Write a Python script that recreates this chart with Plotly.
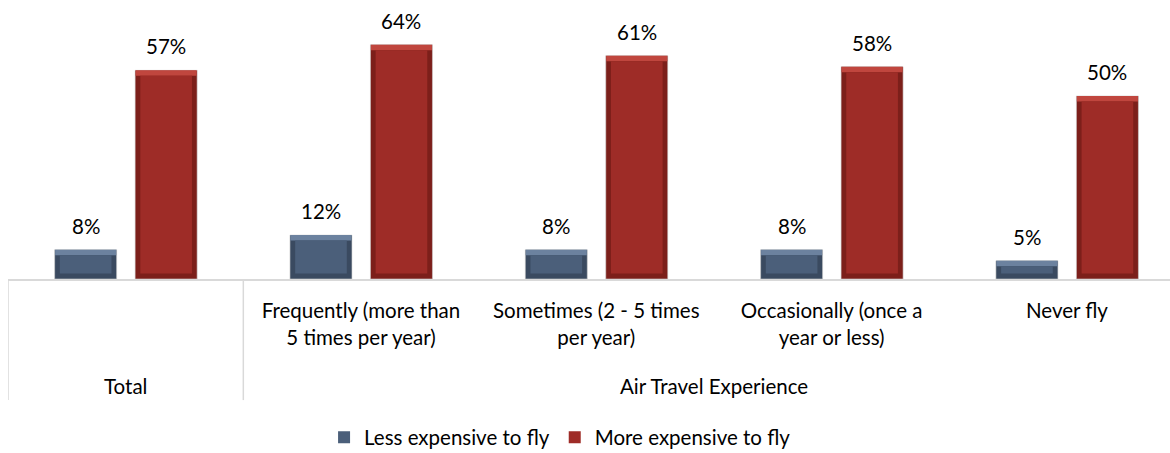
import plotly.graph_objects as go

# Survey results: share who say flying is less / more expensive
groups = ["Total", "Air Travel Experience"]
categories = ["Total",
              "Frequently (more than 5 times per year)",
              "Sometimes (2 - 5 times per year)",
              "Occasionally (once a year or less)",
              "Never fly"]
tick_labels = ["",
               "Frequently (more than<br>5 times per year)",
               "Sometimes (2 - 5 times<br>per year)",
               "Occasionally (once a<br>year or less)",
               "Never fly"]
less_expensive = [8, 12, 8, 8, 5]
more_expensive = [57, 64, 61, 58, 50]
series_names = ["Less expensive to fly", "More expensive to fly"]

FONT = "Lato"
FSIZE = 20.5
pos = list(range(len(categories)))

# geometry (in category units): bar width and centre offsets
bar_w = 0.2635
centre_off = [-0.170, 0.172]
bevel_y = 1.5          # bevel thickness in value units
bevel_x = 0.022        # bevel thickness in category units

palettes = [
    # edge (sides/bottom), top highlight, face
    ("#3a4a60", "#6c829f", "#4b5f7a"),
    ("#7c1f1a", "#c0463e", "#9e2c27"),
]

fig = go.Figure()
for s, (vals, name) in enumerate(zip([less_expensive, more_expensive], series_names)):
    edge, light, face = palettes[s]
    left = centre_off[s] - bar_w / 2
    # full bar in the darker edge colour
    fig.add_trace(go.Bar(
        x=pos, y=vals, width=bar_w, offset=left,
        marker=dict(color=edge, line=dict(color="#d0d0d0", width=0.6)),
        showlegend=False, hoverinfo="skip"))
    # lighter band along the top
    fig.add_trace(go.Bar(
        x=pos, y=[bevel_y] * len(vals), base=[v - bevel_y for v in vals],
        width=bar_w - 0.004, offset=left + 0.002,
        marker=dict(color=light, line=dict(width=0)),
        showlegend=False, hoverinfo="skip"))
    # main face of the bar
    fig.add_trace(go.Bar(
        x=pos, y=[v - 2 * bevel_y for v in vals], base=[bevel_y] * len(vals),
        width=bar_w - 2 * bevel_x, offset=left + bevel_x,
        marker=dict(color=face, line=dict(width=0)),
        name=name, showlegend=True, hovertemplate="%{y}%<extra></extra>"))
    # value labels above each bar
    for p, v in zip(pos, vals):
        fig.add_annotation(x=p + centre_off[s], y=v, text=f"{v}%",
                           showarrow=False, yanchor="bottom", yshift=10,
                           font=dict(family=FONT, size=FSIZE, color="#000000"))

# outer category level
fig.add_annotation(x=0, y=-0.385, yref="paper", text=groups[0], showarrow=False,
                   yanchor="middle", font=dict(family=FONT, size=FSIZE, color="#000000"))
fig.add_annotation(x=2.5, y=-0.385, yref="paper", text=groups[1], showarrow=False,
                   yanchor="middle", font=dict(family=FONT, size=FSIZE, color="#000000"))

# table-style dividers below the axis
for xv in (-0.5, 0.5):
    fig.add_shape(type="line", xref="x", yref="paper", x0=xv, x1=xv, y0=0, y1=-0.434,
                  line=dict(color="#d9d9d9", width=1.5))

fig.update_layout(
    width=1170, height=453,
    margin=dict(l=8, r=0, t=0, b=174, autoexpand=False),
    barmode="overlay",
    plot_bgcolor="white", paper_bgcolor="white",
    font=dict(family=FONT, size=FSIZE, color="#000000"),
    legend=dict(orientation="h", x=0.272, xanchor="left", y=-0.496, yanchor="top",
                font=dict(family=FONT, size=FSIZE, color="#000000"),
                itemwidth=30, traceorder="normal"),
    xaxis=dict(range=[-0.5, 4.438], tickvals=pos, ticktext=tick_labels,
               showline=True, linecolor="#d9d9d9", linewidth=1.5,
               showgrid=False, zeroline=False, ticks="", ticklabelstandoff=13,
               tickfont=dict(family=FONT, size=FSIZE, color="#000000"),
               automargin=False, fixedrange=True),
    yaxis=dict(range=[0, 76.2], visible=False, fixedrange=True, automargin=False),
)

fig.write_html("out.html")
